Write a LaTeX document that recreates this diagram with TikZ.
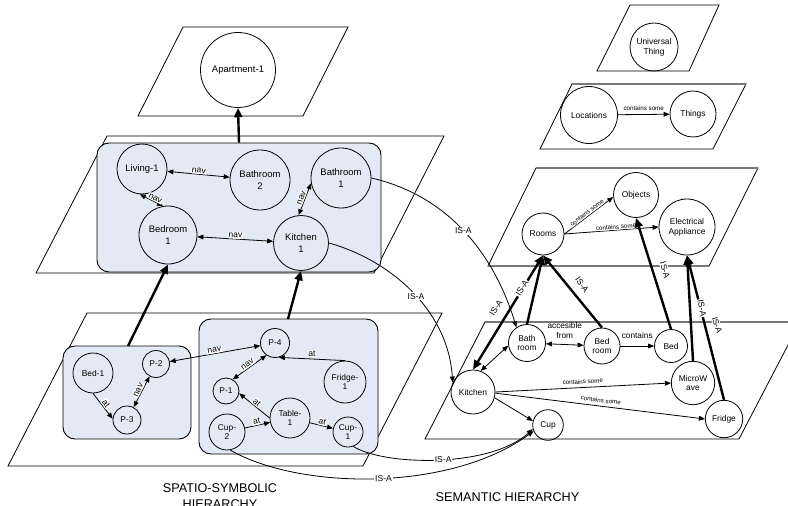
\documentclass[tikz,border=0pt]{standalone}
\usepackage{fontspec}
\setmainfont{Liberation Sans}
\usetikzlibrary{arrows.meta}
\definecolor{grpblue}{RGB}{228,234,245}
\definecolor{planegray}{RGB}{120,120,120}
\begin{document}
\begin{tikzpicture}[x=0.75pt,y=-0.75pt,
  every node/.style={font=\fontsize{6.3}{7.4}\selectfont},
  plane/.style={draw=black, line width=0.6pt},
  planeedge/.style={draw=planegray, line width=1.2pt},
  grp/.style={draw=black, line width=0.7pt, fill=grpblue, rounded corners=9pt, inner sep=0pt},
  circ/.style={circle, draw=black, line width=0.6pt, inner sep=0pt, align=center, minimum size=#1*1.5pt},
  bigtext/.style={font=\fontsize{7.1}{9.4}\selectfont},
  rel/.style={line width=0.6pt, -{Triangle[length=4.5pt,width=3.6pt]}},
  birel/.style={line width=0.6pt, {Triangle[length=4.5pt,width=3.6pt]}-{Triangle[length=4.5pt,width=3.6pt]}},
  isa/.style={line width=1.8pt, -{Triangle[length=7pt,width=6pt]}},
  bisa/.style={line width=1.8pt, {Triangle[length=7pt,width=6pt]}-{Triangle[length=7pt,width=6pt]}},
  lbl/.style={fill=white, inner sep=0.6pt, font=\fontsize{6.5}{7.5}\selectfont},
  isalbl/.style={fill=white, inner sep=0.6pt, font=\fontsize{6.4}{7.4}\selectfont},
  smalllbl/.style={fill=white, inner sep=0.4pt, font=\fontsize{4.7}{5.6}\selectfont},
  title/.style={font=\fontsize{9.5}{11.6}\selectfont, align=center}
]
\useasboundingbox (0,0) rectangle (788,506);

% ---------- planes of the spatio-symbolic hierarchy ----------
\draw[plane] (183,27) -- (348,27) -- (303,116) -- (138,116) -- cycle;
\draw[plane] (107,136) -- (444,136) -- (374,273) -- (36,273) -- cycle;
\draw[plane] (87,313) -- (442,313) -- (363,466) -- (8,466) -- cycle;

% ---------- planes of the semantic hierarchy ----------
\draw[plane] (630,5) -- (719,5) -- (689,71) -- (597,71) -- cycle;
\draw[plane] (572,84) -- (746,84) -- (713,149) -- (540,149) -- cycle;
\draw[planeedge] (572,84) -- (746,84);
\draw[plane] (536,168) -- (758,168) -- (709,266) -- (488,266) -- cycle;
\draw[planeedge] (536,168) -- (758,168);
\draw[planeedge] (488,266) -- (709,266);
\draw[plane] (485,322) -- (800,322) -- (739,439) -- (425,439) -- cycle;
\draw[planeedge] (485,322) -- (800,322);

% ---------- groups ----------
\node[grp, minimum width=284*0.75pt, minimum height=129*0.75pt] (midgrp) at (239,207.5) {};
\node[grp, minimum width=128*0.75pt, minimum height=93*0.75pt] (lgrp) at (127,392.5) {};
\node[grp, minimum width=179*0.75pt, minimum height=135*0.75pt] (rgrp) at (288.5,386.5) {};
\coordinate (lgtop) at (128,346);
\coordinate (rgtop) at (288,319);

% ---------- spatio-symbolic nodes ----------
\node[circ=37.5, bigtext] (apt) at (238,70) {Apartment-1};
\node[circ=25, bigtext] (liv) at (142,169) {Living-1};
\node[circ=30, bigtext] (bath2) at (260,180) {Bathroom\\2};
\node[circ=30, bigtext] (bath1) at (341,178) {Bathroom\\1};
\node[circ=29, bigtext] (bed1) at (168,235) {Bedroom\\1};
\node[circ=27.5, bigtext] (kit1) at (301,243) {Kitchen\\1};

\node[circ=20] (bedA) at (93,373) {Bed-1};
\node[circ=13.5] (p2) at (156,364) {P-2};
\node[circ=14] (p3) at (127,420) {P-3};
\node[circ=14.5] (p4) at (275,343) {P-4};
\node[circ=13] (p1) at (226,391) {P-1};
\node[circ=21] (fridge1) at (345,382) {Fridge-\\1};
\node[circ=20] (table1) at (290,418) {Table-\\1};
\node[circ=18] (cup2) at (227,432) {Cup-\\2};
\node[circ=15] (cup1) at (348,432) {Cup-\\1};

% ---------- semantic nodes ----------
\node[circ=24] (univ) at (654,47) {Universal\\Thing};
\node[circ=28.5] (loc) at (589,115) {Locations};
\node[circ=23] (things) at (693,114) {Things};
\node[circ=22.5] (obj) at (636,195) {Objects};
\node[circ=28] (elec) at (687,227) {Electrical\\Appliance};
\node[circ=21] (rooms) at (543,234) {Rooms};
\node[circ=18.5] (bathr) at (527,343) {Bath\\room};
\node[circ=18] (bedr) at (602,346) {Bed\\room};
\node[circ=16.5] (bed) at (671,346) {Bed};
\node[circ=22] (kit) at (473,392) {Kitchen};
\node[circ=21.7] (mw) at (693,383) {MicroW\\ave};
\node[circ=18.7] (fridge) at (724,419) {Fridge};
\node[circ=15.3] (cup) at (548,425) {Cup};

% ---------- spatio-symbolic hierarchy links ----------
\draw[isa] (midgrp.north) -- (apt.south);
\draw[isa] (lgtop) -- (bed1.south);
\draw[isa] (rgtop) -- (kit1.south);

% navigation and location relations
\draw[birel] (liv) -- node[lbl, sloped, above] {nav} (bath2);
\draw[birel] (liv.-95) -- node[lbl, sloped, above, pos=0.6] {nav} (bed1.100);
\draw[birel] (kit1.95) -- node[lbl, sloped, above] {nav} (bath1.190);
\draw[birel] (bed1) -- node[lbl, sloped, above] {nav} (kit1);

\draw[rel] (bedA.-90) -- node[lbl, sloped, above] {at} (p3.175);
\draw[birel] (p3) -- node[lbl, sloped, above] {nav} (p2);
\draw[birel] (p2) -- node[lbl, sloped, above] {nav} (p4);
\draw[birel] (p1.60) -- node[lbl, sloped, above] {nav} (p4.235);
\draw[rel] (fridge1.north) -- node[lbl, above=1pt] {at} (p4.-75);
\draw[rel] (table1.west) -- node[lbl, sloped, above] {at} (p1.-10);
\draw[rel] (cup2) -- node[lbl, sloped, above] {at} (table1);
\draw[rel] (table1) -- node[lbl, sloped, above] {at} (cup1);

% ---------- semantic relations ----------
\draw[rel] (loc) -- node[smalllbl, above=2pt] {contains some} (things);
\draw[rel] (rooms.east) -- node[smalllbl, sloped, above] {contains some} (obj.185);
\draw[rel] (rooms.east) -- node[smalllbl, sloped, above, pos=0.55] {contains some} (elec.west);
\draw[birel] (kit.70) -- (bathr.188);
\draw[birel] (bathr) -- node[above=1pt, align=center, font=\fontsize{6.2}{7.2}\selectfont] {accesible\\from} (bedr);
\draw[rel] (bedr) -- node[above=2pt, font=\fontsize{6.2}{7.2}\selectfont] {contains} (bed);
\draw[rel] (kit.east) -- node[smalllbl, sloped, above=2pt] {contains some} (mw.west);
\draw[rel] (kit.-3) -- node[smalllbl, sloped, above=2pt] {contains some} (fridge.west);
\draw[rel] (kit.-15) -- (cup.165);

% ---------- IS-A links ----------
\draw[bisa] (kit.north) -- (rooms.south);
\draw[isa] (bathr.north) -- (rooms.south);
\draw[isa] (bedr.north) -- (rooms.south);
\draw[isa] (bed.north) -- (obj.south);
\draw[isa] (mw.north) -- (elec.south);
\draw[isa] (fridge.north) -- (elec.south);
\node[isalbl, rotate=58] (isaK1) at (522,288) {IS-A};
\node[isalbl, rotate=56] (isaK2) at (496,308) {IS-A};
\node[isalbl, rotate=-55] (isaBR) at (582,285) {IS-A};
\node[isalbl, rotate=-74] (isaB) at (665,270) {IS-A};
\node[isalbl, rotate=-80] (isaF1) at (702,308) {IS-A};
\node[isalbl, rotate=-72] (isaF2) at (717,325) {IS-A};

\draw[rel] (bath1.east) .. controls (441,194) and (491,245) .. node[isalbl, pos=0.52] {IS-A} (bathr.124);
\draw[rel] (kit1.east) .. controls (390,260) and (448,310) .. node[isalbl, pos=0.53] {IS-A} (kit.155);
\draw[rel] (cup1.-70) .. controls (385,466) and (490,468) .. node[isalbl, pos=0.52] {IS-A} (cup.195);
\draw[rel] (cup2.-80) .. controls (300,490) and (450,492) .. node[isalbl, pos=0.52] {IS-A} (cup.203);

% ---------- titles ----------
\node[title] (ttlS) at (220,496) {SPATIO-SYMBOLIC\\HIERARCHY};
\node[title] (ttlM) at (507.5,497) {SEMANTIC HIERARCHY};
\end{tikzpicture}
\end{document}
